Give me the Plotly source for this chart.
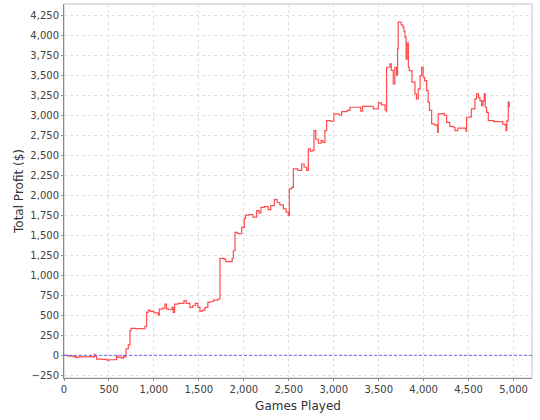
import plotly.graph_objects as go

games = [0, 40, 100, 130, 160, 250, 300, 330, 337, 345, 363, 420, 470, 490, 500, 560, 585, 600, 640, 660,
         670, 690, 715, 730, 734, 745, 800, 860, 900, 919, 935, 960, 1000, 1040, 1049, 1060, 1100, 1123, 1140, 1160,
         1200, 1215, 1230, 1270, 1334, 1360, 1400, 1430, 1460, 1490, 1512, 1540, 1568, 1600, 1623, 1660, 1712, 1734, 1735, 1780,
         1800, 1850, 1870, 1883, 1902, 1930, 1976, 2005, 2020, 2060, 2100, 2143, 2170, 2190, 2230, 2270, 2300, 2339, 2370, 2400,
         2440, 2470, 2495, 2506, 2530, 2551, 2600, 2643, 2670, 2699, 2717, 2740, 2760, 2780, 2800, 2830, 2860, 2880, 2902, 2921,
         2970, 3002, 3060, 3088, 3150, 3180, 3250, 3300, 3320, 3400, 3440, 3480, 3496, 3530, 3570, 3585, 3588, 3625, 3640, 3662,
         3680, 3700, 3710, 3717, 3750, 3770, 3780, 3792, 3805, 3815, 3830, 3840, 3870, 3903, 3920, 3940, 3960, 3978, 3995, 4010,
         4033, 4050, 4065, 4089, 4120, 4150, 4155, 4162, 4200, 4230, 4255, 4290, 4330, 4348, 4380, 4440, 4470, 4478, 4510, 4530,
         4550, 4570, 4589, 4610, 4626, 4645, 4660, 4674, 4685, 4700, 4719, 4780, 4850, 4880, 4905, 4915, 4925, 4941, 4952]

profit = [0, -10, -15, -25, -20, -20, -15, -18, 12, -10, -46, -50, -55, -67, -55, -55, -5, -25, -35, -5,
          -20, 80, 130, 140, 310, 337, 335, 335, 362, 537, 562, 550, 530, 530, 503, 578, 590, 640, 580, 570,
          600, 537, 640, 650, 683, 650, 600, 620, 650, 600, 553, 565, 600, 662, 670, 690, 704, 704, 1212, 1200,
          1170, 1170, 1210, 1307, 1537, 1520, 1600, 1712, 1753, 1760, 1728, 1808, 1780, 1850, 1860, 1820, 1870, 1945, 1910, 1880,
          1830, 1790, 1745, 2080, 2100, 2329, 2310, 2391, 2350, 2310, 2579, 2550, 2560, 2808, 2700, 2650, 2683, 2660, 2808, 2933,
          2925, 3016, 3000, 3046, 3060, 3100, 3100, 3050, 3110, 3110, 3080, 3080, 3154, 3130, 3070, 3045, 3600, 3641, 3560, 3391,
          3600, 3500, 3829, 4163, 4130, 4100, 4050, 3975, 3700, 3900, 3600, 3558, 3413, 3266, 3204, 3329, 3495, 3600, 3475, 3433,
          3308, 3160, 3060, 2891, 2880, 2860, 2787, 3016, 3020, 3000, 2912, 2860, 2850, 2808, 2840, 2840, 2800, 2975, 2980, 3079,
          3080, 3204, 3266, 3220, 3183, 3120, 3180, 3266, 3100, 3037, 2933, 2920, 2920, 2890, 2880, 2808, 2930, 3163, 3100]

x_ticks = [0, 500, 1000, 1500, 2000, 2500, 3000, 3500, 4000, 4500, 5000]
y_ticks = [-250, 0, 250, 500, 750, 1000, 1250, 1500, 1750, 2000, 2250, 2500, 2750, 3000, 3250, 3500, 3750, 4000, 4250]

fig = go.Figure()
fig.add_trace(go.Scatter(x=games, y=profit, mode="lines", line_shape="hv",
                         line=dict(color="#ff4d4d", width=1.2), showlegend=False))

axis_common = dict(
    showgrid=True, gridcolor="#e0e0e0", gridwidth=1, griddash="3px,3px",
    showline=True, linecolor="#8c8c8c", linewidth=1,
    ticks="outside", ticklen=2, tickcolor="#8c8c8c",
    tickfont=dict(family="DejaVu Sans", size=10, color="#404040"),
    zeroline=False, tickformat=",d", automargin=False,
)

fig.update_layout(
    width=540, height=420,
    margin=dict(l=64, r=8, t=4, b=42),
    paper_bgcolor="white", plot_bgcolor="white",
    font=dict(family="DejaVu Sans"),
    xaxis=dict(range=[0, 5205], tickvals=x_ticks,
               title=dict(text="Games Played", font=dict(size=12, color="#333333"), standoff=7),
               **axis_common),
    yaxis=dict(range=[-283, 4390], tickvals=y_ticks,
               title=dict(text="Total Profit ($)", font=dict(size=12, color="#333333"), standoff=4),
               **axis_common),
)
fig.add_shape(type="rect", xref="paper", yref="paper", x0=0, y0=0, x1=1, y1=1,
              line=dict(color="#c0c0c0", width=1), layer="below")
fig.add_hline(y=0, layer="above", line=dict(color="#6666ff", width=1, dash="3px,2px"))

fig.write_html("out.html", config={"displayModeBar": False},
               post_script="document.body.style.margin='0';")
